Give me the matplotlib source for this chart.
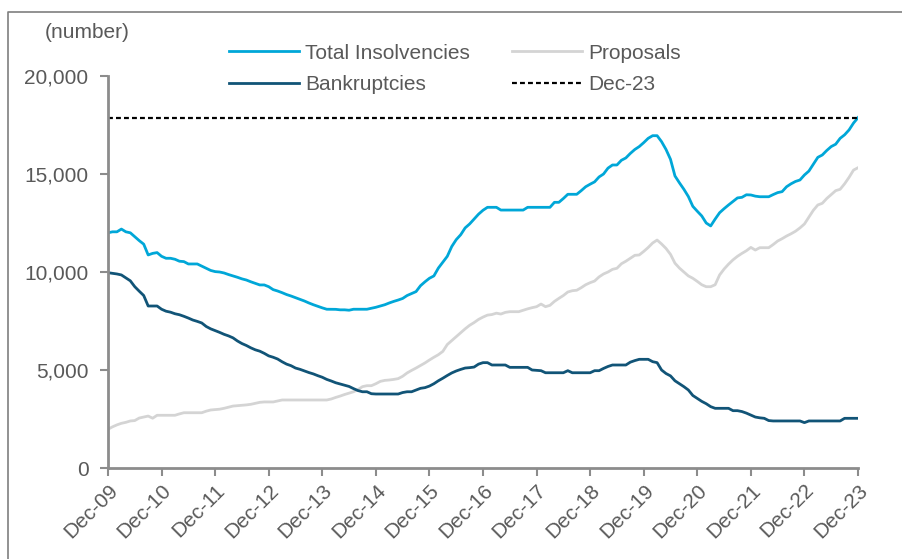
import matplotlib
matplotlib.use("Agg")
import matplotlib.pyplot as plt
from matplotlib.lines import Line2D
from matplotlib.ticker import FuncFormatter

plt.rcParams["font.family"] = ["Liberation Sans", "DejaVu Sans"]
fs = 15.0

# Monthly insolvency counts, Dec-2009 to Dec-2023
total_insolvencies = [
    12000, 12050, 12050, 12190, 12050, 12000, 11800, 11600, 11420, 10870, 10950, 10990,
    10800, 10700, 10700, 10650, 10550, 10530, 10410, 10410, 10410, 10300, 10190, 10080,
    10020, 10000, 9950, 9870, 9800, 9730, 9650, 9590, 9500, 9420, 9340, 9340,
    9250, 9100, 9030, 8945, 8850, 8775, 8690, 8600, 8520, 8420, 8330, 8250,
    8170, 8100, 8095, 8095, 8070, 8070, 8050, 8100, 8100, 8100, 8100, 8150,
    8200, 8265, 8330, 8420, 8500, 8570, 8650, 8800, 8900, 9000, 9300, 9500,
    9680, 9800, 10200, 10500, 10800, 11300, 11650, 11900, 12250, 12450, 12700, 12950,
    13150, 13300, 13300, 13300, 13160, 13160, 13160, 13160, 13160, 13160, 13300, 13300,
    13300, 13300, 13300, 13300, 13555, 13555, 13750, 13965, 13965, 13965, 14150, 14350,
    14480, 14600, 14850, 15000, 15300, 15460, 15460, 15700, 15820, 16050, 16250, 16400,
    16600, 16820, 16955, 16955, 16650, 16250, 15750, 14900, 14550, 14220, 13850, 13350,
    13100, 12860, 12500, 12350, 12700, 13025, 13230, 13420, 13600, 13780, 13810, 13940,
    13930, 13870, 13840, 13840, 13840, 13950, 14050, 14100, 14350, 14500, 14620, 14695,
    14950, 15150, 15500, 15850, 15970, 16200, 16400, 16520, 16820, 17000, 17250, 17600,
    17875,
]

proposals = [
    1975, 2100, 2200, 2280, 2330, 2400, 2420, 2550, 2600, 2650, 2540, 2690,
    2690, 2690, 2690, 2690, 2760, 2820, 2820, 2820, 2820, 2820, 2900, 2960,
    2980, 3000, 3045, 3100, 3160, 3180, 3200, 3220, 3250, 3300, 3350, 3370,
    3370, 3370, 3420, 3470, 3470, 3470, 3470, 3470, 3470, 3470, 3470, 3470,
    3470, 3470, 3520, 3600, 3670, 3750, 3820, 3890, 4000, 4150, 4200, 4200,
    4300, 4420, 4470, 4490, 4520, 4560, 4680, 4850, 4980, 5100, 5230, 5360,
    5510, 5650, 5780, 5950, 6300, 6500, 6700, 6900, 7100, 7280, 7420, 7580,
    7700, 7800, 7830, 7900, 7855, 7940, 7975, 7975, 7975, 8050, 8120, 8180,
    8230, 8365, 8230, 8300, 8500, 8655, 8800, 8980, 9045, 9070, 9200, 9350,
    9455, 9540, 9750, 9900, 10000, 10135, 10190, 10420, 10550, 10700, 10850, 10870,
    11050, 11250, 11480, 11630, 11430, 11200, 10900, 10450, 10200, 10000, 9800, 9680,
    9520, 9350, 9250, 9250, 9350, 9850, 10150, 10400, 10620, 10800, 10950, 11085,
    11255, 11120, 11240, 11240, 11240, 11400, 11580, 11700, 11835, 11950, 12080, 12250,
    12450, 12800, 13150, 13420, 13505, 13750, 13950, 14150, 14220, 14500, 14830, 15200,
    15320,
]

bankruptcies = [
    9965, 9930, 9900, 9850, 9700, 9550, 9250, 9020, 8800, 8265, 8265, 8265,
    8100, 8000, 7950, 7870, 7820, 7740, 7650, 7550, 7480, 7400, 7220, 7100,
    7010, 6920, 6820, 6740, 6640, 6480, 6350, 6250, 6130, 6030, 5960, 5850,
    5720, 5650, 5560, 5420, 5300, 5220, 5100, 5035, 4950, 4870, 4800, 4710,
    4630, 4520, 4440, 4350, 4285, 4220, 4160, 4050, 3950, 3890, 3890, 3790,
    3775, 3775, 3775, 3775, 3775, 3775, 3850, 3890, 3890, 3980, 4065, 4100,
    4180, 4300, 4450, 4580, 4720, 4850, 4950, 5030, 5100, 5120, 5150, 5300,
    5375, 5375, 5255, 5255, 5255, 5255, 5135, 5135, 5135, 5135, 5135, 5000,
    4980, 4965, 4860, 4860, 4860, 4860, 4860, 4965, 4860, 4860, 4860, 4860,
    4860, 4965, 4965, 5080, 5180, 5255, 5255, 5255, 5255, 5400, 5480, 5545,
    5545, 5545, 5425, 5375, 5000, 4820, 4700, 4450, 4300, 4150, 3980, 3700,
    3550, 3400, 3280, 3130, 3045, 3045, 3045, 3045, 2925, 2925, 2880, 2800,
    2700, 2600, 2560, 2535, 2420, 2400, 2400, 2400, 2400, 2400, 2400, 2400,
    2315, 2400, 2400, 2400, 2400, 2400, 2400, 2400, 2400, 2535, 2535, 2535,
    2535,
]

latest_total = 17875  # Dec-23 level of total insolvencies

tick_labels = ["Dec-09", "Dec-10", "Dec-11", "Dec-12", "Dec-13", "Dec-14", "Dec-15",
               "Dec-16", "Dec-17", "Dec-18", "Dec-19", "Dec-20", "Dec-21", "Dec-22",
               "Dec-23"]
y_ticks = [0, 5000, 10000, 15000, 20000]

months = list(range(len(total_insolvencies)))

W, H = 902, 559
fig = plt.figure(figsize=(W / 100, H / 100), dpi=100)
ax = fig.add_axes([108 / W, 1 - 468 / H, (858 - 108) / W, (468 - 76) / H])

text_color = "#595959"
axis_color = "#8c8c8c"

ln_total, = ax.plot(months, total_insolvencies, color="#00a7d8", lw=2.0, label="Total Insolvencies")
ln_prop, = ax.plot(months, proposals, color="#d4d4d4", lw=2.0, label="Proposals")
ln_bank, = ax.plot(months, bankruptcies, color="#115477", lw=2.0, label="Bankruptcies")
ln_dec, = ax.plot([months[0], months[-1]], [latest_total, latest_total], color="black",
                  lw=1.6, ls=(0, (2.2, 1.4)), label="Dec-23")

ax.set_xlim(months[0], months[-1])
ax.set_ylim(0, 20000)
ax.set_xticks(months[::12])
ax.set_xticklabels(tick_labels, rotation=45, ha="right", va="top",
                   rotation_mode="anchor", fontsize=fs, color=text_color)
ax.set_yticks(y_ticks)
ax.yaxis.set_major_formatter(FuncFormatter(lambda v, p: f"{int(v):,}"))
ax.tick_params(axis="y", labelsize=fs, labelcolor=text_color, color=axis_color,
               length=6, width=1.5, direction="out", pad=8)
ax.tick_params(axis="x", color=axis_color, length=6, width=1.5, direction="out", pad=3)

for side in ("top", "right"):
    ax.spines[side].set_visible(False)
for side in ("left", "bottom"):
    ax.spines[side].set_color(axis_color)
    ax.spines[side].set_linewidth(2)

fig.text(45 / W, 1 - 33 / H, "(number)", fontsize=fs, color=text_color,
         ha="left", va="center")

leg = fig.legend([ln_total, ln_bank, ln_prop, ln_dec],
                 ["Total Insolvencies", "Bankruptcies", "Proposals", "Dec-23"],
                 ncol=2, frameon=False, fontsize=fs, handlelength=70 / (fs * 100 / 72),
                 handletextpad=0.3, columnspacing=2.0, labelspacing=0.6,
                 loc="upper left", bbox_to_anchor=(210 / W, 1 - 25 / H))
for t in leg.get_texts():
    t.set_color(text_color)

# outer frame (top and left edges)
fig.add_artist(Line2D([1.0, 8 / W, 8 / W], [1 - 12 / H, 1 - 12 / H, 0.0],
                      transform=fig.transFigure, color="#7f7f7f", lw=1.2))

fig.savefig("out.png", dpi=100)
